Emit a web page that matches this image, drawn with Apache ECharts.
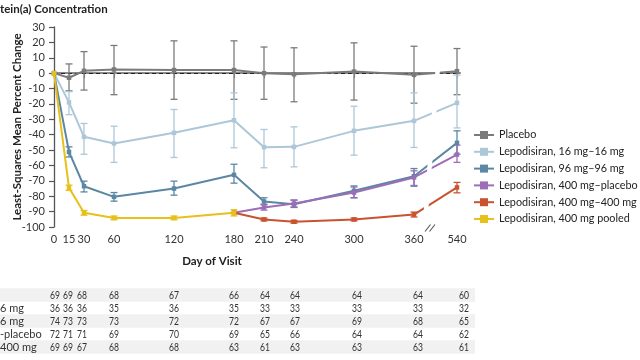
<!DOCTYPE html>
<html>
<head>
<meta charset="utf-8">
<script src="https://cdn.jsdelivr.net/npm/echarts@6/dist/echarts.min.js"></script>
<style>
html,body{margin:0;padding:0;background:#fff;}
#chart{width:640px;height:360px;}
</style>
</head>
<body>
<div id="chart"></div>
<script>
// ---------------- DATA ----------------
const days = [0, 15, 30, 60, 120, 180, 210, 240, 300, 360, 540];
const dayLabels = ['0', '15', '30', '60', '120', '180', '210', '240', '300', '360', '540'];
const seriesNames = ['Placebo', 'Lepodisiran, 16 mg\u201316 mg', 'Lepodisiran, 96 mg\u201396 mg',
  'Lepodisiran, 400 mg\u2013placebo', 'Lepodisiran, 400 mg\u2013400 mg', 'Lepodisiran, 400 mg pooled'];

const placeboMean = [0, -3, 1.5, 2.4, 2, 2, 0, -0.7, 1, -1, 1.3];
const placeboLow  = [null, -11.5, -11, -14, -17, -17, -17, -18.6, -17.5, -19.5, -14];
const placeboHigh = [null, 6, 14, 18, 21, 21, 17, 16.5, 19.7, 17.5, 16];

const mg16Mean = [0, -19, -41.4, -45.7, -38.8, -30.6, -48.1, -47.9, -37.5, -31, -19.3];
const mg16Low  = [null, -27, -52.7, -58, -54.8, -48.5, -61.5, -60.9, -53.3, -48.3, -35.6];
const mg16High = [null, -12, -32.7, -34.5, -23.6, -12.8, -36.6, -34.9, -21.5, -12.8, -1.3];

const mg96Mean = [0, -51.2, -73.5, -80.4, -75, -66.1, -83.4, -85.2, -76.5, -67, -45.3];
const mg96Low  = [null, -54.5, -77.2, -83.2, -79.3, -71.5, -85.2, -87.3, -81, -73.5, -52.7];
const mg96High = [null, -47.9, -70.2, -77.6, -70.2, -59.2, -81, -82.5, -73.3, -62, -37.5];

const pooledDays = [0, 15, 30, 60, 120, 180];
const pooledMean = [0, -74.5, -90.8, -94.1, -94.1, -90.8];
const pooledLow  = [null, -76.2, -92.3, -95.3, -95.3, -92.8];
const pooledHigh = [null, -72.8, -89.3, -92.9, -92.9, -88.8];

const laterDays = [180, 210, 240, 300, 360, 540];
const mg400PlaceboMean = [-90.8, -87.3, -84.7, -77.6, -67.8, -52.9];
const mg400PlaceboLow  = [null, -89, -87, -81, -73, -58];
const mg400PlaceboHigh = [null, -85.6, -82.5, -74, -63.5, -46.8];

const mg400Mean = [-90.8, -95.1, -96.6, -95.1, -91.9, -74.3];
const mg400Low  = [null, -96, -97.5, -96, -93.5, -77.8];
const mg400High = [null, -94.2, -95.7, -94.2, -90.3, -71];

const yTicks = [30, 20, 10, 0, -10, -20, -30, -40, -50, -60, -70, -80, -90, -100];

// number at risk table
const tableRowLabels = ['', '6 mg', '6 mg', '-placebo', '400 mg'];
const atRiskPlacebo = [69, 69, 68, 68, 67, 66, 64, 64, 64, 64, 60];
const atRisk16 = [36, 36, 36, 35, 36, 35, 33, 33, 33, 33, 32];
const atRisk96 = [74, 73, 73, 73, 72, 72, 67, 67, 69, 68, 65];
const atRisk400P = [72, 71, 71, 69, 70, 69, 65, 66, 64, 64, 62];
const atRisk400 = [69, 69, 67, 68, 68, 63, 61, 63, 63, 63, 61];

// ---------------- LAYOUT ----------------
const BREAK_POS = 403;            // axis position used for day 540 (after the break)
const toX = d => (d <= 360 ? d : BREAK_POS);
const colors = ['#7b7b7b', '#adc7d8', '#5b87a4', '#9d6db5', '#c9532f', '#e7c01c'];
const FONT = 'Lato, "Open Sans", sans-serif';
const tableColPos = [1, 14, 28, 60, 120, 180, 211, 241, 303, 364, 410];
const tableRowY = [295, 308, 321, 334, 347];

const chart = echarts.init(document.getElementById('chart'), null, {renderer: 'canvas'});

function pairs(xs, ys) { return xs.map((d, i) => [toX(d), ys[i]]); }
function errPairs(xs, lo, hi) {
  const out = [];
  xs.forEach((d, i) => { if (lo[i] != null) out.push([toX(d), lo[i], hi[i]]); });
  return out;
}
function renderErr(params, api) {
  const x = api.value(0);
  const pLo = api.coord([x, api.value(1)]);
  const pHi = api.coord([x, api.value(2)]);
  const c = api.visual('color');
  const w = 3.5;
  const st = {stroke: c, lineWidth: 1.3};
  return {type: 'group', children: [
    {type: 'line', shape: {x1: pLo[0], y1: pLo[1], x2: pHi[0], y2: pHi[1]}, style: st},
    {type: 'line', shape: {x1: pLo[0] - w, y1: pLo[1], x2: pLo[0] + w, y2: pLo[1]}, style: st},
    {type: 'line', shape: {x1: pHi[0] - w, y1: pHi[1], x2: pHi[0] + w, y2: pHi[1]}, style: st}
  ]};
}

const lineDefs = [
  [days, placeboMean, placeboLow, placeboHigh],
  [days, mg16Mean, mg16Low, mg16High],
  [days, mg96Mean, mg96Low, mg96High],
  [laterDays, mg400PlaceboMean, mg400PlaceboLow, mg400PlaceboHigh],
  [laterDays, mg400Mean, mg400Low, mg400High],
  [pooledDays, pooledMean, pooledLow, pooledHigh]
];

const series = [];
lineDefs.forEach((def, i) => {
  series.push({
    type: 'custom', name: 'err' + i, renderItem: renderErr,
    itemStyle: {color: colors[i]}, data: errPairs(def[0], def[2], def[3]),
    encode: {x: 0, y: [1, 2]}, z: 2 + i, silent: true
  });
  const s = {
    type: 'line', name: seriesNames[i], data: pairs(def[0], def[1]),
    symbol: 'rect', symbolSize: 4.5, showSymbol: true,
    lineStyle: {color: colors[i], width: 2}, itemStyle: {color: colors[i]},
    z: 3 + i, animation: false
  };
  if (i === 0) {
    s.markLine = {silent: true, symbol: 'none', label: {show: false},
      lineStyle: {color: '#222', type: [4, 3], width: 1}, data: [{yAxis: 0}], z: 1};
  }
  series.push(s);
});

const xTickVals = days.map(toX);

chart.setOption({
  animation: false,
  textStyle: {fontFamily: FONT},
  title: {text: 'tein(a) Concentration', left: 0, top: 3, padding: 0,
    textStyle: {fontFamily: FONT, fontSize: 11.5, fontWeight: 'bold', color: '#222'}},
  grid: {left: 54, top: 27, width: 406, height: 200, containLabel: false, outerBoundsMode: 'none'},
  legend: {
    orient: 'vertical', left: 468, top: 123.5, itemWidth: 20, itemHeight: 10, itemGap: 3.8,
    data: seriesNames,
    textStyle: {fontFamily: FONT, fontSize: 10.8, color: '#222', lineHeight: 13}
  },
  xAxis: {
    type: 'value', min: 0, max: 406,
    axisLine: {lineStyle: {color: '#8a8a8a', width: 2.2}},
    axisTick: {show: true, customValues: xTickVals, length: 5, lineStyle: {color: '#8a8a8a', width: 1.2}},
    axisLabel: {customValues: xTickVals, margin: 7, fontSize: 11, color: '#333', fontFamily: FONT,
      formatter: v => dayLabels[xTickVals.indexOf(v)]},
    splitLine: {show: false}
  },
  yAxis: {
    type: 'value', min: -100, max: 30, interval: 10,
    name: 'Least-Squares Mean Percent Change', nameLocation: 'middle', nameGap: 31,
    nameMoveOverlap: false,
    nameTextStyle: {fontFamily: FONT, fontSize: 11.5, fontWeight: 'bold', color: '#222'},
    axisLine: {show: true, lineStyle: {color: '#555', width: 1.3}},
    axisTick: {show: true, length: 5, lineStyle: {color: '#555', width: 1.2}},
    axisLabel: {margin: 9, fontSize: 11, color: '#333', fontFamily: FONT,
      formatter: v => (yTicks.indexOf(v) >= 0 ? String(v) : '')},
    splitLine: {show: false}
  },
  series: series
});

// ---------------- GRAPHICS (break, axis title, at-risk table) ----------------
const px = (x, y) => chart.convertToPixel({gridIndex: 0}, [x, y]);
const g = [];
// white break stripe across lines
const a = px(385, 30), b = px(368.5, -99);
g.push({type: 'polygon', z: 100, silent: true,
  shape: {points: [[a[0], a[1]], [a[0] + 4.5, a[1]], [b[0] + 4.5, b[1]], [b[0], b[1]]]},
  style: {fill: '#fff'}});
// axis break marks
const ax = px(375, -100);
g.push({type: 'rect', z: 100, silent: true, shape: {x: ax[0] - 0.5, y: ax[1] - 3, width: 4, height: 6}, style: {fill: '#fff'}});
g.push({type: 'line', z: 101, silent: true, shape: {x1: ax[0] - 4, y1: ax[1] + 4.5, x2: ax[0] + 1.5, y2: ax[1] - 2.5}, style: {stroke: '#555', lineWidth: 1.1}});
g.push({type: 'line', z: 101, silent: true, shape: {x1: ax[0] + 0.5, y1: ax[1] + 4.5, x2: ax[0] + 6, y2: ax[1] - 2.5}, style: {stroke: '#555', lineWidth: 1.1}});
// x-axis title
g.push({type: 'text', x: 212, y: 261, silent: true,
  style: {text: 'Day of Visit', font: 'bold 11.5px ' + FONT, fill: '#222', align: 'center', verticalAlign: 'middle'}});
// at-risk table
const atRisk = [atRiskPlacebo, atRisk16, atRisk96, atRisk400P, atRisk400];
tableRowY.forEach((yy, r) => {
  if (r % 2 === 0) {
    g.push({type: 'rect', silent: true, z: 0, shape: {x: 0, y: yy - 6.7, width: 475, height: 13.4}, style: {fill: '#f1f1f1'}});
  }
  g.push({type: 'text', x: 0, y: yy, silent: true, z: 5,
    style: {text: tableRowLabels[r], font: '11px ' + FONT, fill: '#333', verticalAlign: 'middle'}});
  atRisk[r].forEach((v, c) => {
    const p = px(tableColPos[c], 0);
    g.push({type: 'text', x: p[0], y: yy, scaleX: 0.78, silent: true, z: 5,
      style: {text: String(v), font: '11px ' + FONT, fill: '#333', align: 'center', verticalAlign: 'middle'}});
  });
});
chart.setOption({graphic: g});
</script>
</body>
</html>
